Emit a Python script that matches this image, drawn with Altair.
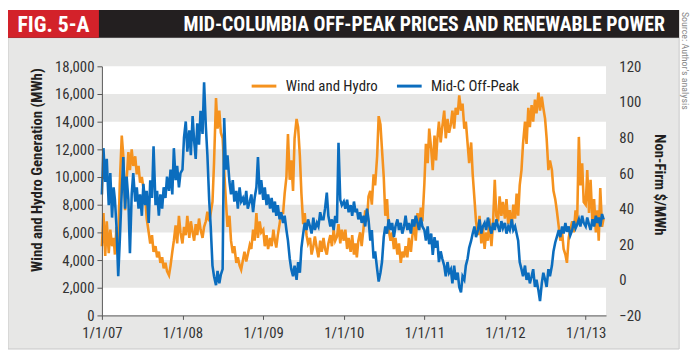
import altair as alt
import pandas as pd

# ---------------- data (4 readings per month: days 1, 8, 16, 23) ----------------
wind_2007 = [5000, 7400, 4300, 6800, 4500, 6200, 5000, 5600, 4400, 6400, 5200, 9500,
             13000, 11500, 7600, 9800, 11800, 10500, 12000, 10800, 11500, 10200, 10800, 9600,
             10000, 9200, 8600, 7000, 6000, 5200, 5800, 4600, 5000, 4200, 4600, 3800,
             4200, 3400, 3800, 3200, 2900, 3600, 4600, 5400, 6500, 5200, 7200, 6000]
wind_2008 = [5200, 6400, 5800, 7200, 5600, 6800, 6000, 5400, 6600, 5800, 7000, 6200,
             5600, 6400, 6800, 7500, 6800, 7400, 8200, 11000, 15700, 13500, 14800, 13200,
             12800, 10500, 8200, 6400, 7200, 5400, 4500, 5000, 3800, 4200, 3600, 3300,
             4000, 4600, 3900, 4400, 5100, 4800, 6200, 5400, 7400, 5600, 6800, 6000]
wind_2009 = [6200, 5000, 5800, 4800, 5600, 5000, 6200, 5400, 4900, 5800, 6600, 7400,
             7400, 8800, 10000, 13100, 9800, 11200, 9000, 12800, 14200, 13600, 11500, 8800,
             6600, 7400, 5800, 5200, 5600, 4400, 5000, 5700, 4800, 4200, 5400, 4600,
             5600, 4800, 4400, 5200, 5800, 5000, 6200, 5400, 5700, 6600, 5200, 6200]
wind_2010 = [5400, 6200, 4800, 5600, 4600, 5800, 4400, 5200, 4200, 5400, 6000, 5000,
             6400, 7600, 6800, 8600, 9000, 8000, 10200, 9400, 11500, 14400, 13800, 12000,
             10000, 7200, 8400, 6200, 5400, 6000, 4800, 5600, 4400, 5200, 3800, 4600,
             4200, 5000, 4200, 5600, 4600, 5800, 6600, 5400, 7400, 6200, 7800, 6800]
wind_2011 = [9500, 12400, 11000, 13500, 12000, 10500, 13000, 11200, 12800, 14000, 12500, 13600,
             14800, 12800, 14200, 13200, 13800, 14800, 13500, 15000, 14500, 15900, 14800, 15300,
             13500, 14000, 12400, 11000, 12500, 10200, 8400, 6800, 5800, 7200, 5200, 6400,
             4800, 6000, 5400, 7000, 5000, 6600, 9800, 7200, 6800, 8600, 7200, 8200]
wind_2012 = [7000, 8400, 6600, 7600, 6400, 8000, 7000, 8800, 7200, 9400, 10500, 12400,
             14000, 12400, 15000, 13600, 15200, 14000, 15600, 14600, 16100, 14800, 15800, 15000,
             14200, 12800, 10500, 11200, 10500, 9000, 8400, 7600, 6400, 5400, 6000, 4800,
             4400, 3800, 5600, 6200, 6800, 6000, 7600, 6600, 12900, 9400, 11000, 8200]
wind_2013 = [8000, 10500, 7400, 9800, 6600, 8400, 6000, 7600, 5400, 9200, 6400, 7000]

price_2007 = [48, 74, 55, 68, 42, 60, 35, 52, 45, 30, 2, 22,
              50, 69, 40, 58, 45, 15, 48, 60, 44, 52, 40, 48,
              36, 54, 42, 50, 32, 56, 46, 75, 42, 50, 36, 48,
              40, 52, 46, 58, 50, 62, 48, 74, 56, 64, 52, 60]
price_2008 = [62, 80, 89, 72, 84, 70, 92, 78, 68, 88, 76, 95,
              82, 111, 86, 70, 45, 30, 8, 2, -3, 5, -2, 3,
              6, 91, 62, 70, 55, 48, 56, 44, 50, 40, 52, 44,
              46, 42, 50, 40, 44, 48, 38, 46, 52, 69, 48, 56]
price_2009 = [45, 52, 42, 48, 40, 46, 38, 44, 36, 42, 34, 38,
              32, 36, 28, 22, 12, 6, 2, 8, 0, 10, 4, 18,
              26, 32, 28, 34, 30, 26, 35, 28, 32, 30, 38, 34,
              34, 40, 49, 36, 30, 34, 28, 36, 32, 77, 45, 42]
price_2010 = [44, 40, 45, 38, 42, 36, 44, 38, 40, 34, 38, 32,
              36, 30, 40, 34, 22, 28, 12, 16, 6, -1, 4, 10,
              24, 30, 26, 34, 28, 32, 24, 30, 34, 28, 32, 26,
              30, 36, 28, 32, 26, 34, 30, 36, 32, 28, 35, 30]
price_2011 = [28, 22, 30, 20, 26, 14, 24, 18, 22, 10, 16, 12,
              8, 2, 10, 4, 6, -2, 8, 0, 4, -4, -7, 2,
              0, 8, 12, 18, 22, 26, 30, 24, 28, 34, 26, 30,
              32, 28, 35, 30, 26, 32, 28, 34, 30, 27, 33, 29]
price_2012 = [32, 26, 30, 28, 34, 28, 30, 26, 22, 10, 6, 2,
              8, 0, 4, -2, 2, 6, -4, 0, -6, -12, -2, 4,
              0, -4, 6, 2, 8, 16, 21, 24, 28, 24, 30, 26,
              32, 27, 30, 25, 28, 33, 29, 31, 34, 30, 36, 32]
price_2013 = [30, 35, 31, 28, 34, 30, 36, 32, 35, 30, 37, 34]

years = [2007, 2008, 2009, 2010, 2011, 2012, 2013]
wind_by_year = [wind_2007, wind_2008, wind_2009, wind_2010, wind_2011, wind_2012, wind_2013]
price_by_year = [price_2007, price_2008, price_2009, price_2010, price_2011, price_2012, price_2013]
reading_days = [1, 8, 16, 23]

series_names = ["Wind and Hydro", "Mid-C Off-Peak"]
series_colors = ["#F5921E", "#0B6DBE"]

band_lo = [0, 4000, 8000, 12000, 16000]
band_hi = [2000, 6000, 10000, 14000, 18000]

left_ticks = list(range(0, 18001, 2000))
right_ticks = list(range(-20, 121, 20))
year_ticks = ["2007-01-01", "2008-01-01", "2009-01-01", "2010-01-01",
              "2011-01-01", "2012-01-01", "2013-01-01"]


def build(series_by_year, name):
    rows = []
    for yr, vals in zip(years, series_by_year):
        for i, v in enumerate(vals):
            rows.append({"date": pd.Timestamp(yr, i // 4 + 1, reading_days[i % 4]),
                         "value": v, "series": name})
    return pd.DataFrame(rows)


wind_df = build(wind_by_year, series_names[0])
price_df = build(price_by_year, series_names[1])
bands_df = pd.DataFrame({"lo": band_lo, "hi": band_hi})
dummy = pd.DataFrame({"k": [0]})

NARROW = "Liberation Sans Narrow, Arial Narrow, Roboto Condensed, DejaVu Sans Condensed, sans-serif"
W, H = 510, 252
TICK_FS = 15

xscale = alt.Scale(domain=["2007-01-01", "2013-04-03"])
xaxis = alt.Axis(values=year_ticks, format="%-m/%-d/%y", labelFont=NARROW, labelFontSize=TICK_FS,
                 labelColor="#333333", domainColor="#555555", tickColor="#555555", tickSize=4,
                 labelPadding=6, grid=False, title=None, labelFlush=False, zindex=3)

color = alt.Color("series:N",
                  scale=alt.Scale(domain=series_names, range=series_colors),
                  legend=alt.Legend(title=None, orient="none", legendX=150, legendY=6,
                                    direction="horizontal", symbolType="stroke",
                                    symbolSize=625, symbolStrokeWidth=3, labelFont=NARROW,
                                    labelFontSize=15, labelColor="#222222", labelOffset=8,
                                    columnPadding=12, padding=0, zindex=3))

# ---------------- decorations ----------------
panel = alt.Chart(dummy).mark_rect(color="#e7e7e6", stroke="#c8c8c8", strokeWidth=1).encode(
    x=alt.value(-95), x2=alt.value(584), y=alt.value(-29), y2=alt.value(286))
bar = alt.Chart(dummy).mark_rect(color="#231f20").encode(
    x=alt.value(-95), x2=alt.value(584), y=alt.value(-57), y2=alt.value(-29))
redbox = alt.Chart(dummy).mark_rect(color="#D3222A").encode(
    x=alt.value(-95), x2=alt.value(-3), y=alt.value(-57), y2=alt.value(-29))
fig_txt = alt.Chart(dummy).mark_text(text="FIG. 5-A", font=NARROW, fontSize=22, fontWeight="bold",
                                     color="white", align="center", baseline="middle").encode(
    x=alt.value(-49), y=alt.value(-42))
title_txt = alt.Chart(dummy).mark_text(text="MID-COLUMBIA OFF-PEAK PRICES AND RENEWABLE POWER",
                                       font=NARROW, fontSize=20, fontWeight="bold", color="white",
                                       align="center", baseline="middle").encode(
    x=alt.value(326), y=alt.value(-42))
source_txt = alt.Chart(dummy).mark_text(text="Source: Author's analysis", font=NARROW, fontSize=10,
                                        color="#8a8a8a", angle=90, align="left",
                                        baseline="middle").encode(
    x=alt.value(590), y=alt.value(-55))
ltitle = alt.Chart(dummy).mark_text(text="Wind and Hydro Generation (MWh)", font=NARROW, fontSize=15,
                                    fontWeight="bold", color="#231f20", angle=270, align="center",
                                    baseline="middle").encode(
    x=alt.value(-66), y=alt.value(105))
rtitle = alt.Chart(dummy).mark_text(text="Non-Firm $/MWh", font=NARROW, fontSize=15,
                                    fontWeight="bold", color="#231f20", angle=90, align="center",
                                    baseline="middle").encode(
    x=alt.value(565), y=alt.value(120))

bands = alt.Chart(bands_df).mark_rect(color="white").encode(
    x=alt.value(0), x2=alt.value(W),
    y=alt.Y("lo:Q", scale=alt.Scale(domain=[0, 18000]), axis=None),
    y2="hi:Q")

wind_line = alt.Chart(wind_df).mark_line(strokeWidth=2.6).encode(
    x=alt.X("date:T", scale=xscale, axis=xaxis),
    y=alt.Y("value:Q", scale=alt.Scale(domain=[0, 18000]),
            axis=alt.Axis(values=left_ticks, format=",d", orient="left", labelFont=NARROW,
                          labelFontSize=TICK_FS, labelColor="#333333", domainColor="#555555",
                          tickColor="#555555", tickSize=5, labelPadding=3, grid=False,
                          title=None, zindex=3)),
    color=color)

price_line = alt.Chart(price_df).mark_line(strokeWidth=2.6).encode(
    x=alt.X("date:T", scale=xscale, axis=xaxis),
    y=alt.Y("value:Q", scale=alt.Scale(domain=[-20, 120]),
            axis=alt.Axis(values=right_ticks, orient="right", labelFont=NARROW,
                          labelFontSize=TICK_FS, labelColor="#333333", domain=False, ticks=False,
                          labelPadding=13, grid=False, title=None, zindex=3)),
    color=color)

chart = alt.layer(panel, bar, redbox, fig_txt, title_txt, source_txt, ltitle, rtitle,
                  bands, wind_line, price_line).resolve_scale(
    y="independent"
).properties(
    width=W, height=H,
    autosize=alt.AutoSizeParams(type="none"),
    padding={"left": 95, "top": 57, "right": 87, "bottom": 35},
    background="white"
).configure_view(stroke=None)

chart.save("out.html", embed_options={"renderer": "svg", "actions": False})
